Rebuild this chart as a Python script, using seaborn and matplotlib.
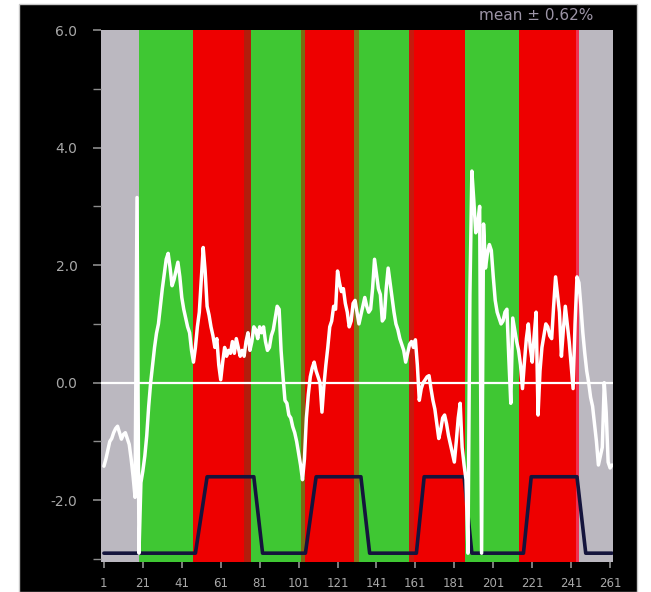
import matplotlib
matplotlib.use("Agg")
import matplotlib.pyplot as plt
from matplotlib.patches import Rectangle
from matplotlib.ticker import MultipleLocator, FixedLocator
import seaborn as sns

# ---- data -------------------------------------------------------------
volumes = list(range(1, 263))

# percent signal change per volume
signal = [
    -1.42, -1.30, -1.15, -1.00, -0.95, -0.85, -0.78, -0.74, -0.85, -0.96,
    -0.88, -0.85, -0.95, -1.05, -1.30, -1.60, -1.95, 3.15, -2.90, -1.70,
    -1.50, -1.25, -0.90, -0.40, 0.00, 0.30, 0.60, 0.84, 1.00, 1.30,
    1.60, 1.85, 2.10, 2.20, 1.95, 1.65, 1.75, 1.90, 2.05, 1.80,
    1.45, 1.25, 1.10, 0.95, 0.85, 0.55, 0.35, 0.60, 0.95, 1.20,
    1.75, 2.30, 1.90, 1.30, 1.15, 0.95, 0.80, 0.60, 0.75, 0.30,
    0.05, 0.35, 0.60, 0.45, 0.55, 0.50, 0.70, 0.50, 0.75, 0.60,
    0.45, 0.55, 0.45, 0.70, 0.85, 0.55, 0.70, 0.95, 0.90, 0.75,
    0.95, 0.85, 0.95, 0.70, 0.55, 0.60, 0.80, 0.90, 1.10, 1.30,
    1.25, 0.55, 0.10, -0.30, -0.35, -0.55, -0.60, -0.75, -0.85, -1.00,
    -1.20, -1.40, -1.65, -1.30, -0.60, -0.20, 0.10, 0.25, 0.35, 0.20,
    0.10, 0.00, -0.50, -0.05, 0.30, 0.60, 0.95, 1.05, 1.30, 1.25,
    1.90, 1.70, 1.55, 1.60, 1.35, 1.20, 0.95, 1.05, 1.35, 1.40,
    1.20, 1.00, 1.15, 1.30, 1.45, 1.30, 1.20, 1.25, 1.60, 2.10,
    1.85, 1.60, 1.50, 1.05, 1.10, 1.60, 1.95, 1.70, 1.45, 1.20,
    1.00, 0.90, 0.75, 0.65, 0.55, 0.35, 0.50, 0.65, 0.70, 0.60,
    0.73, 0.30, -0.30, -0.10, 0.00, 0.05, 0.10, 0.12, -0.10, -0.30,
    -0.45, -0.70, -0.95, -0.80, -0.60, -0.55, -0.70, -0.90, -1.05, -1.20,
    -1.35, -1.00, -0.60, -0.35, -1.10, -1.40, -1.65, -2.90, 1.50, 3.60,
    3.10, 2.55, 2.70, 3.00, -2.90, 2.70, 1.95, 2.20, 2.35, 2.25,
    1.80, 1.40, 1.20, 1.10, 1.00, 1.05, 1.20, 1.25, 0.40, -0.35,
    1.10, 0.90, 0.70, 0.55, 0.30, -0.10, 0.35, 0.75, 1.00, 0.60,
    0.35, 0.80, 1.20, -0.55, 0.20, 0.60, 0.80, 1.00, 0.95, 0.80,
    0.75, 1.30, 1.80, 1.50, 1.20, 0.45, 0.90, 1.30, 1.00, 0.70,
    0.30, -0.10, 1.00, 1.80, 1.70, 1.30, 0.85, 0.50, 0.20, 0.00,
    -0.25, -0.40, -0.70, -1.00, -1.40, -1.25, -1.10, 0.00, -0.50, -1.35,
    -1.45, -1.40,
]

# model regressor (vertices of the convolved boxcar)
model_t = [1, 48, 54, 78, 82.5, 104.5, 110, 133, 137.5,
           161.5, 165.5, 186, 190, 216.5, 220.5, 244, 248.5, 262]
model_v = [-2.9, -2.9, -1.6, -1.6, -2.9, -2.9, -1.6, -1.6, -2.9,
           -2.9, -1.6, -1.6, -2.9, -2.9, -1.6, -1.6, -2.9, -2.9]

# experimental blocks
block_edges = [-0.5, 19, 47, 76, 103.5, 131, 158.5, 186.5, 214, 244.8, 262.5]
block_kind = ["rest", "off", "on", "off", "on", "off", "on", "off", "on", "rest"]

x_ticks = [1, 21, 41, 61, 81, 101, 121, 141, 161, 181, 201, 221, 241, 261]
y_ticks = [-2.0, 0.0, 2.0, 4.0, 6.0]
mean_text = "mean \u00b1 0.62%"

# ---- style ------------------------------------------------------------
kind_color = {"rest": "#bbb8c0", "off": "#3fc733", "on": "#ee0000"}
edge_stripes = [(72.8, 76.4, "#b41c0c"), (102.0, 104.3, "#7a6a12"),
                (129.6, 132.2, "#857518"), (157.8, 160.2, "#c61a0e"),
                (243.3, 244.8, "#f03050")]

sns.set_theme(style="dark")
plt.rcParams["font.family"] = ["DejaVu Sans"]

fig = plt.figure(figsize=(6.51, 5.92), dpi=100, facecolor="white")
fig.patches.append(Rectangle((19 / 651, 0), 618 / 651, 1 - 4 / 592,
                             transform=fig.transFigure, facecolor="black",
                             edgecolor="#c8c8c8", linewidth=1.0, zorder=-10))

ax = fig.add_axes([101 / 651, 1 - 562 / 592, 512 / 651, 532 / 592])
ax.set_facecolor("black")

for i, kind in enumerate(block_kind):
    ax.axvspan(block_edges[i], block_edges[i + 1], color=kind_color[kind],
               linewidth=0, zorder=0)
for x0, x1, c in edge_stripes:
    ax.axvspan(x0, x1, color=c, linewidth=0, zorder=0.5)

sns.lineplot(x=model_t, y=model_v, ax=ax, color="#14143c", linewidth=2.6,
             sort=False, zorder=2)
sns.lineplot(x=volumes, y=signal, ax=ax, color="white", linewidth=2.5,
             sort=False, zorder=3)
ax.axhline(0, color="white", linewidth=1.6, zorder=4)

ax.set_xlim(-0.5, 262.5)
ax.set_ylim(-3.05, 6.0)
ax.set_xlabel("")
ax.set_ylabel("")

ax.yaxis.set_major_locator(FixedLocator(y_ticks))
ax.yaxis.set_minor_locator(MultipleLocator(1.0))
ax.set_yticklabels([f"{v:.1f}" for v in y_ticks])
ax.xaxis.set_major_locator(FixedLocator(x_ticks))
ax.set_xticklabels([str(v) for v in x_ticks])

ax.tick_params(axis="y", which="both", direction="out", color="#8c8c8c",
               labelcolor="#a8a8a8", labelsize=10, left=True, pad=11)
ax.tick_params(axis="y", which="major", length=6, width=1.2)
ax.tick_params(axis="y", which="minor", length=6, width=1.0)
ax.tick_params(axis="x", which="major", direction="out", length=4,
               color="#8c8c8c", labelcolor="#a8a8a8", labelsize=8.5,
               bottom=True, pad=7)
for s in ax.spines.values():
    s.set_visible(False)

fig.text(536 / 651, 1 - 15 / 592, mean_text, color="#9c94a6", fontsize=11,
         ha="center", va="center")

fig.savefig("out.png", dpi=100, facecolor=fig.get_facecolor())
